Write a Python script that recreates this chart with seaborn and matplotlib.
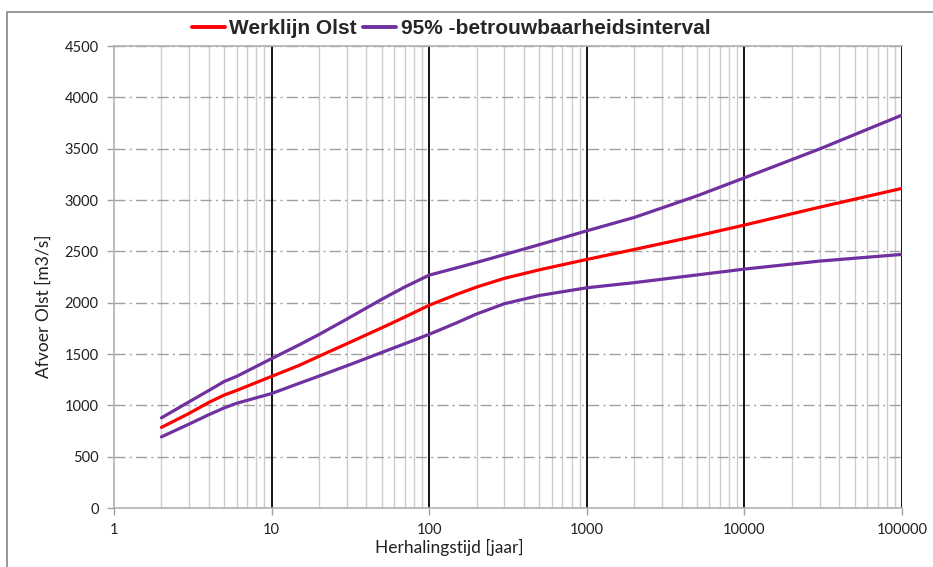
import matplotlib
matplotlib.use("Agg")
import matplotlib.pyplot as plt
import matplotlib.ticker as mticker
from matplotlib.lines import Line2D
from matplotlib.patches import Rectangle
import seaborn as sns
import pandas as pd
import numpy as np

# ---- data ----
T_work = [2, 3, 4, 5, 6, 10, 15, 20, 30, 50, 70, 100, 150, 200, 300, 500, 1000, 2000, 5000, 10000, 30000, 100000]
werklijn = [785, 922, 1029, 1100, 1145, 1282, 1390, 1478, 1600, 1755, 1860, 1975, 2082, 2152, 2237, 2320, 2421, 2518, 2650, 2756, 2930, 3113]
upper = [878, 1035, 1145, 1232, 1282, 1455, 1590, 1690, 1840, 2033, 2153, 2268, 2340, 2392, 2468, 2565, 2700, 2830, 3040, 3216, 3497, 3827]
lower = [693, 818, 909, 975, 1020, 1115, 1215, 1285, 1385, 1515, 1600, 1692, 1805, 1890, 1990, 2070, 2145, 2195, 2270, 2327, 2405, 2470]

x_ticks = [1, 10, 100, 1000, 10000, 100000]
x_ticklabels = ["1", "10", "100", "1000", "10000", "100000"]
y_ticks = list(range(0, 4501, 500))

label_main = "Werklijn Olst"
label_ci = "95% -betrouwbaarheidsinterval"

RED = "#ff0000"
PURPLE = "#7030a0"

sns.set_theme(style="white")
plt.rcParams["font.family"] = ["Lato", "DejaVu Sans"]

fig = plt.figure(figsize=(9.33, 5.67), dpi=100)
ax = fig.add_axes([114/933, 1-508/567, (902-114)/933, (508-46)/567])

df = pd.DataFrame({"T": T_work, "werk": werklijn, "up": upper, "lo": lower})

sns.lineplot(data=df, x="T", y="up", color=PURPLE, lw=2.3, ax=ax, zorder=5)
sns.lineplot(data=df, x="T", y="lo", color=PURPLE, lw=2.3, ax=ax, zorder=5)
sns.lineplot(data=df, x="T", y="werk", color=RED, lw=2.3, ax=ax, zorder=6)

ax.set_xscale("log")
ax.set_xlim(1, 100000)
ax.set_ylim(0, 4500)

# minor vertical gridlines
ax.xaxis.set_minor_locator(mticker.LogLocator(base=10, subs=np.arange(2, 10)))
ax.grid(which="minor", axis="x", color="#cccccc", lw=1.0, ls="-")
# major vertical lines (black) at decades, except at x=1
for xv in x_ticks[1:]:
    ax.axvline(xv, color="black", lw=1.3, zorder=2)
# horizontal dash-dot gridlines
for yv in y_ticks[1:]:
    ax.axhline(yv, color="#a0a0a0", lw=1.0, ls=(0, (8, 3, 1.5, 3)), zorder=1)

ax.set_xticks(x_ticks)
ax.set_xticklabels(x_ticklabels)
ax.set_yticks(y_ticks)
ax.set_yticklabels([str(v) for v in y_ticks])
ax.tick_params(axis="both", which="major", direction="out", length=5, width=1,
               color="#a0a0a0", labelsize=10.5, labelcolor="#202020", pad=6)
ax.tick_params(axis="x", which="minor", length=0)
ax.tick_params(left=True, bottom=True)

for side in ["left", "bottom", "top"]:
    ax.spines[side].set_color("#b0b0b0")
    ax.spines[side].set_linewidth(1.2)
ax.spines["right"].set_visible(False)

ax.set_xlabel("")
ax.set_ylabel("")
fig.text(449/933, 1-547/567, "Herhalingstijd [jaar]", ha="center", va="center",
         fontsize=12.5, color="#202020")
fig.text(44/933, 1-306/567, "Afvoer Olst [m3/s]", ha="center", va="center",
         rotation=90, fontsize=12.5, color="#202020")

handles = [Line2D([0], [0], color=RED, lw=2.8), Line2D([0], [0], color=PURPLE, lw=2.8)]
fig.legend(handles, [label_main, label_ci], loc="center", bbox_to_anchor=(451/933, 1-29/567),
           ncol=2, frameon=False, handlelength=1.6, handletextpad=0.2, columnspacing=0.3,
           prop={"family": "Liberation Sans", "weight": "bold", "size": 15})

# figure border
fig.patches.append(Rectangle((7/933, -0.05), 1.2, 1 - 12/567 + 0.05, transform=fig.transFigure,
                             fill=False, edgecolor="#909090", lw=1.3))

fig.savefig("out.png", dpi=100)
